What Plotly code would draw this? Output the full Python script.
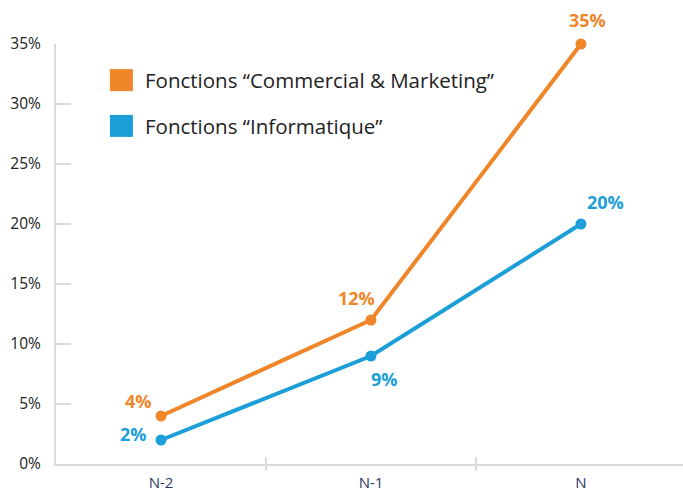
import plotly.graph_objects as go

periods = ["N-2", "N-1", "N"]
commercial = [0.04, 0.12, 0.35]
informatique = [0.02, 0.09, 0.20]
series_names = ["Fonctions “Commercial & Marketing”", "Fonctions “Informatique”"]
y_ticks = [0, 0.05, 0.10, 0.15, 0.20, 0.25, 0.30, 0.35]

ORANGE = "#F0862A"
BLUE = "#1C9FD9"
AXIS = "#DADADA"
FONT = "Open Sans"

fig = go.Figure()

for values, color in [(commercial, ORANGE), (informatique, BLUE)]:
    fig.add_trace(go.Scatter(
        x=periods, y=values, mode="lines+markers",
        line=dict(color=color, width=4),
        marker=dict(color=color, size=11),
        cliponaxis=False, showlegend=False, hoverinfo="skip",
    ))

# value labels, offset from each point
offsets_c = [(-22, 15), (-14, 22), (7, 24)]
offsets_i = [(-27, 6), (14, -23), (25, 22)]
for values, color, offs in [(commercial, ORANGE, offsets_c), (informatique, BLUE, offsets_i)]:
    for p, v, (dx, dy) in zip(periods, values, offs):
        fig.add_annotation(
            x=p, y=v, text=f"{v*100:.0f}%", showarrow=False,
            xshift=dx, yshift=dy,
            font=dict(family=FONT, size=18, color=color, weight="bold"),
        )

# legend drawn as square swatches with text beside them
legend_x = 0.086
legend_rows = [0.914, 0.805]
for name, color, ly in zip(series_names, [ORANGE, BLUE], legend_rows):
    fig.add_shape(type="rect", xref="paper", yref="paper",
                  xsizemode="pixel", ysizemode="pixel",
                  xanchor=legend_x, yanchor=ly,
                  x0=0, x1=23, y0=-11, y1=11,
                  line=dict(width=0), fillcolor=color)
    fig.add_annotation(xref="paper", yref="paper", x=legend_x, y=ly,
                       xshift=33, text=name, showarrow=False,
                       xanchor="left", yanchor="middle",
                       font=dict(family=FONT, size=20.5, color="#222222"))

# category boundary ticks crossing the x axis line
for b in [0.5, 1.5]:
    fig.add_shape(type="line", xref="x", yref="paper", x0=b, x1=b, y0=-0.016, y1=0.016,
                  line=dict(color=AXIS, width=2))

fig.update_layout(
    width=683, height=493,
    margin=dict(l=56, r=0, t=44, b=29),
    paper_bgcolor="white", plot_bgcolor="white",
    font=dict(family=FONT),
    showlegend=False,
    xaxis=dict(
        range=[-0.5, 2.486], showgrid=False, zeroline=False,
        showline=True, linecolor=AXIS, linewidth=2, automargin=False,
        ticks="", tickfont=dict(family=FONT, size=15, color="#2B3A67"),
        ticklabelstandoff=4,
    ),
    yaxis=dict(
        range=[0, 0.35], tickvals=y_ticks, tickformat=".0%",
        showgrid=False, zeroline=False,
        showline=True, linecolor=AXIS, linewidth=2, automargin=False,
        ticks="inside", ticklen=15, tickwidth=2, tickcolor=AXIS,
        tickfont=dict(family=FONT, size=15.5, color="#222222"),
        ticklabelstandoff=10,
    ),
)

fig.write_html("out.html")
